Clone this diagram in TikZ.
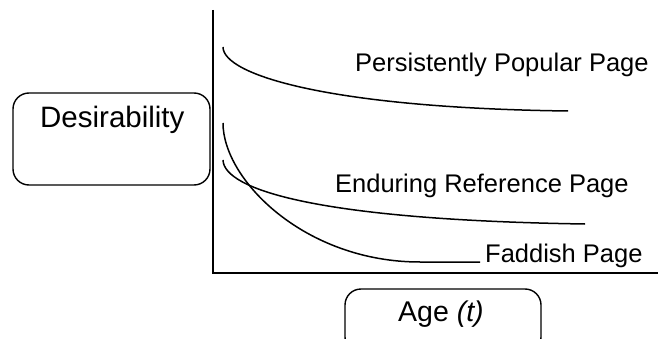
\documentclass[tikz,border=0pt]{standalone}
\usepackage{fontspec}
\setmainfont{Liberation Sans}
\begin{document}
\begin{tikzpicture}[x=1pt,y=-1pt,
  axis/.style={line width=2pt},
  curve/.style={line width=1.5pt},
  labelbox/.style={draw,line width=1.4pt,rounded corners=16pt},
  curvelabel/.style={font=\fontsize{25.5}{30}\selectfont,anchor=base west,inner sep=0pt},
  axislabel/.style={font=\fontsize{29.5}{34}\selectfont,anchor=base west,inner sep=0pt}]
\useasboundingbox (0,0) rectangle (658,339);
\clip (0,0) rectangle (658,339);

% axes
\coordinate (ytop) at (213,10);
\coordinate (origin) at (213,272.5);
\coordinate (xend) at (660,272.5);
\draw[axis] (ytop) -- (origin) -- (xend);

% axis label boxes
\node[labelbox,minimum width=197pt,minimum height=92pt] (desbox) at (111.5,139) {};
\node[axislabel] (destxt) at (40,128) {Desirability};
\node[labelbox,minimum width=196pt,minimum height=64pt] (agebox) at (443,321) {};
\node[axislabel,font=\fontsize{28.5}{34}\selectfont] (agetxt) at (398,321) {Age \textit{(t)}};

% decay curves
\coordinate (pstart) at (223,47);
\coordinate (pend) at (568,111);
\draw[curve] (pstart) .. controls (223,75) and (330,108) .. (pend);

\coordinate (fstart) at (223,123);
\coordinate (fbend) at (420,262);
\coordinate (fend) at (480,262);
\draw[curve] (fstart) .. controls (223,180) and (305,262) .. (fbend) -- (fend);

\coordinate (estart) at (223,160);
\coordinate (eend) at (585,224);
\draw[curve] (estart) .. controls (224,190) and (320,220) .. (eend);

% curve labels
\node[curvelabel] (plab) at (355,71.5) {Persistently Popular Page};
\node[curvelabel] (elab) at (335,193) {Enduring Reference Page};
\node[curvelabel] (flab) at (485,262) {Faddish Page};
\end{tikzpicture}
\end{document}
